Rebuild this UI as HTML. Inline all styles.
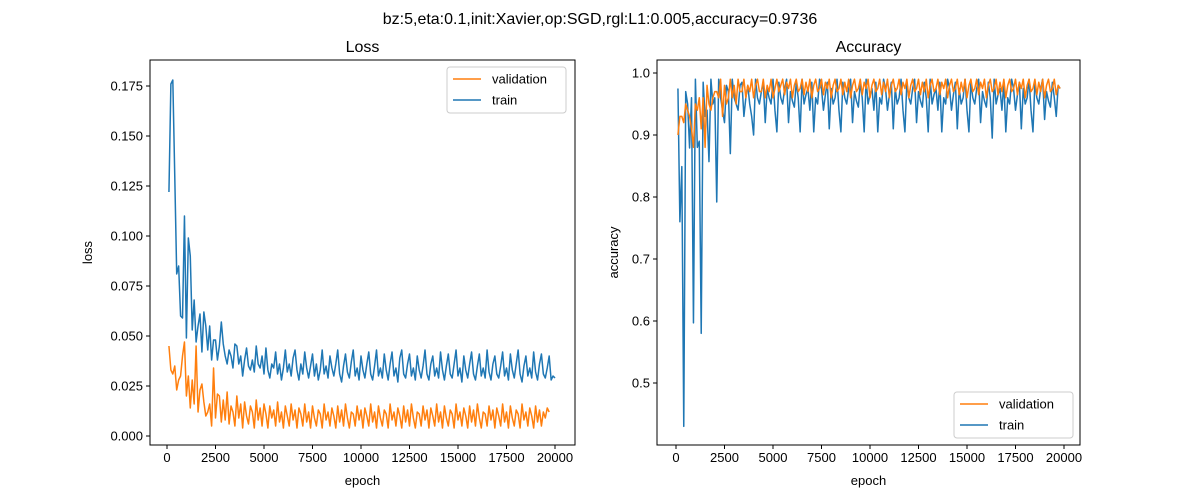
<!DOCTYPE html>
<html><head><meta charset="utf-8">
<style>
body{margin:0;background:#fff;}
svg{display:block;font-family:"Liberation Sans","DejaVu Sans",sans-serif;}
</style></head>
<body>
<svg id="fig" width="1200" height="500" viewBox="0 0 1200 500"></svg>
<script>
const EPOCH_STEP = 100;
const lossXTicks = [0,2500,5000,7500,10000,12500,15000,17500,20000];
const lossYTicks = [0,0.025,0.05,0.075,0.1,0.125,0.15,0.175];
const lossYLabels = ["0.000","0.025","0.050","0.075","0.100","0.125","0.150","0.175"];
const accYTicks = [0.5,0.6,0.7,0.8,0.9,1.0];
const accYLabels = ["0.5","0.6","0.7","0.8","0.9","1.0"];
const trainLoss = [0.122,0.176,0.178,0.130,0.081,0.085,0.060,0.059,0.110,0.049,0.099,0.090,0.053,0.068,0.047,0.055,0.061,0.042,0.062,0.055,0.043,0.055,0.038,0.048,0.048,0.038,0.045,0.057,0.046,0.040,0.036,0.043,0.040,0.034,0.046,0.045,0.036,0.040,0.030,0.038,0.044,0.035,0.033,0.038,0.032,0.045,0.036,0.034,0.040,0.031,0.044,0.033,0.029,0.036,0.034,0.042,0.031,0.036,0.028,0.034,0.043,0.032,0.036,0.030,0.039,0.043,0.033,0.028,0.036,0.031,0.042,0.034,0.029,0.035,0.041,0.030,0.036,0.028,0.033,0.043,0.031,0.035,0.029,0.040,0.034,0.030,0.036,0.043,0.031,0.027,0.035,0.041,0.032,0.029,0.037,0.043,0.030,0.034,0.028,0.040,0.033,0.029,0.036,0.042,0.031,0.028,0.035,0.043,0.030,0.034,0.029,0.041,0.033,0.028,0.036,0.042,0.030,0.034,0.027,0.039,0.043,0.031,0.029,0.036,0.041,0.030,0.034,0.028,0.040,0.033,0.029,0.035,0.043,0.031,0.028,0.036,0.040,0.030,0.034,0.029,0.042,0.033,0.028,0.035,0.041,0.031,0.029,0.036,0.043,0.030,0.034,0.027,0.040,0.033,0.029,0.036,0.042,0.031,0.028,0.035,0.041,0.030,0.034,0.029,0.043,0.032,0.028,0.036,0.040,0.031,0.029,0.035,0.042,0.030,0.034,0.028,0.041,0.033,0.029,0.036,0.043,0.031,0.027,0.035,0.040,0.030,0.034,0.029,0.042,0.032,0.028,0.036,0.041,0.031,0.029,0.034,0.040,0.028,0.030,0.029];
const valLoss = [0.045,0.033,0.031,0.035,0.023,0.028,0.030,0.040,0.047,0.020,0.030,0.014,0.028,0.016,0.045,0.012,0.023,0.026,0.017,0.010,0.012,0.016,0.005,0.034,0.009,0.021,0.020,0.007,0.018,0.008,0.022,0.006,0.015,0.012,0.005,0.020,0.009,0.016,0.004,0.017,0.010,0.006,0.015,0.012,0.004,0.018,0.008,0.014,0.005,0.016,0.011,0.004,0.015,0.009,0.013,0.005,0.017,0.007,0.012,0.004,0.015,0.010,0.005,0.016,0.008,0.013,0.004,0.014,0.011,0.005,0.016,0.007,0.012,0.004,0.015,0.009,0.005,0.013,0.011,0.004,0.016,0.008,0.012,0.005,0.014,0.010,0.004,0.015,0.007,0.013,0.005,0.016,0.009,0.004,0.012,0.011,0.005,0.015,0.008,0.013,0.004,0.014,0.010,0.005,0.016,0.007,0.012,0.004,0.015,0.009,0.005,0.013,0.011,0.004,0.016,0.008,0.012,0.005,0.014,0.010,0.004,0.015,0.007,0.013,0.005,0.016,0.009,0.004,0.012,0.011,0.005,0.015,0.008,0.013,0.004,0.014,0.010,0.005,0.016,0.007,0.012,0.004,0.015,0.009,0.005,0.013,0.011,0.004,0.016,0.008,0.012,0.005,0.014,0.010,0.004,0.015,0.007,0.013,0.005,0.016,0.009,0.004,0.012,0.011,0.005,0.015,0.008,0.013,0.004,0.014,0.010,0.005,0.016,0.007,0.012,0.004,0.015,0.009,0.005,0.013,0.011,0.004,0.016,0.008,0.012,0.005,0.014,0.010,0.004,0.015,0.007,0.013,0.005,0.012,0.009,0.014,0.012];
const trainAcc = [0.975,0.760,0.849,0.430,0.970,0.950,0.879,0.960,0.597,0.990,0.880,0.890,0.580,0.985,0.930,0.940,0.857,0.990,0.950,0.960,0.792,0.990,0.960,0.940,0.920,0.980,0.970,0.870,0.990,0.960,0.950,0.940,0.980,0.985,0.930,0.960,0.980,0.950,0.930,0.900,0.990,0.960,0.950,0.970,0.985,0.920,0.975,0.960,0.950,0.990,0.940,0.905,0.985,0.960,0.950,0.975,0.990,0.920,0.970,0.955,0.945,0.985,0.960,0.905,0.990,0.950,0.965,0.975,0.940,0.985,0.905,0.960,0.950,0.990,0.975,0.940,0.965,0.985,0.910,0.975,0.950,0.960,0.990,0.940,0.905,0.985,0.960,0.950,0.975,0.990,0.920,0.970,0.955,0.945,0.985,0.960,0.905,0.990,0.950,0.965,0.975,0.940,0.985,0.905,0.960,0.950,0.990,0.975,0.940,0.965,0.985,0.910,0.975,0.950,0.960,0.990,0.940,0.905,0.985,0.960,0.950,0.975,0.990,0.920,0.970,0.955,0.945,0.985,0.960,0.905,0.990,0.950,0.965,0.975,0.940,0.985,0.905,0.960,0.950,0.990,0.975,0.940,0.965,0.985,0.910,0.975,0.950,0.960,0.990,0.940,0.905,0.985,0.960,0.950,0.975,0.990,0.920,0.970,0.955,0.945,0.985,0.960,0.895,0.990,0.950,0.965,0.975,0.940,0.985,0.905,0.960,0.950,0.990,0.975,0.940,0.965,0.985,0.910,0.975,0.950,0.960,0.990,0.940,0.905,0.985,0.960,0.950,0.975,0.990,0.925,0.970,0.955,0.945,0.985,0.960,0.930,0.980,0.975];
const valAcc = [0.900,0.930,0.930,0.920,0.950,0.940,0.930,0.910,0.880,0.950,0.940,0.960,0.910,0.960,0.880,0.980,0.950,0.940,0.960,0.970,0.970,0.960,0.990,0.930,0.980,0.950,0.960,0.990,0.960,0.980,0.950,0.990,0.970,0.970,0.990,0.960,0.980,0.970,0.990,0.960,0.980,0.990,0.970,0.970,0.990,0.960,0.980,0.970,0.990,0.960,0.975,0.990,0.970,0.980,0.990,0.965,0.985,0.975,0.990,0.960,0.980,0.990,0.970,0.975,0.990,0.965,0.985,0.970,0.990,0.960,0.980,0.990,0.970,0.975,0.990,0.965,0.985,0.975,0.990,0.960,0.980,0.990,0.970,0.975,0.990,0.965,0.985,0.970,0.990,0.960,0.980,0.990,0.970,0.975,0.990,0.965,0.985,0.975,0.990,0.960,0.980,0.990,0.970,0.975,0.990,0.965,0.985,0.970,0.990,0.960,0.980,0.990,0.970,0.975,0.990,0.965,0.985,0.975,0.990,0.960,0.980,0.990,0.970,0.975,0.990,0.965,0.985,0.970,0.990,0.960,0.980,0.990,0.970,0.975,0.990,0.965,0.985,0.975,0.990,0.960,0.980,0.990,0.970,0.975,0.990,0.965,0.985,0.970,0.990,0.960,0.980,0.990,0.970,0.975,0.990,0.965,0.985,0.975,0.990,0.960,0.980,0.990,0.970,0.975,0.990,0.965,0.985,0.970,0.990,0.960,0.980,0.990,0.970,0.975,0.990,0.965,0.985,0.975,0.990,0.960,0.980,0.990,0.970,0.975,0.990,0.965,0.985,0.970,0.990,0.960,0.980,0.990,0.970,0.975,0.990,0.965,0.980,0.975];

const NS="http://www.w3.org/2000/svg";
const svg=document.getElementById('fig');
function mk(tag,attrs,parent){const e=document.createElementNS(NS,tag);for(const k in attrs)e.setAttribute(k,attrs[k]);(parent||svg).appendChild(e);return e;}
function txt(s,attrs,parent){const e=mk('text',attrs,parent);e.textContent=s;return e;}

const t=txt("bz:5,eta:0.1,init:Xavier,op:SGD,rgl:L1:0.005,accuracy=0.9736",{x:600,y:24,'text-anchor':'middle','font-size':16,fill:'#000'});



function panel(cfg){
  const g=mk('g',{});
  
  
  const L=cfg.left,R=cfg.right,T=60,B=445;
  const xs=v=>cfg.x0+v*(cfg.x1-cfg.x0)/20000;
  const ys=v=>cfg.yA+(v-cfg.vA)*(cfg.yB-cfg.yA)/(cfg.vB-cfg.vA);
  const pt=txt(cfg.title,{x:(L+R)/2,y:52,'text-anchor':'middle','font-size':16,fill:'#000'},g);
  
  
  // series
  cfg.series.forEach(s=>{
    const d=s.data.map((v,i)=>(i?'L':'M')+xs((i+1)*EPOCH_STEP).toFixed(2)+','+ys(v).toFixed(2)).join(' ');
    const p=mk('path',{d:d,fill:'none',stroke:s.color,'stroke-width':1.5,'stroke-linejoin':'round'},g);
    
    
  });
  const box=mk('rect',{x:L,y:T,width:R-L,height:B-T,fill:'none',stroke:'#000','stroke-width':1},g);
  
  
  lossXTicks.forEach(v=>{
    const x=xs(v);
    mk('line',{x1:x,x2:x,y1:B,y2:B+4,stroke:'#000'},g);
    const l=txt(String(v),{x:x,y:B+17,'text-anchor':'middle','font-size':13,fill:'#000'},g);
    
    
  });
  cfg.yTicks.forEach((v,i)=>{
    const y=ys(v);
    mk('line',{x1:L-4,x2:L,y1:y,y2:y,stroke:'#000'},g);
    const l=txt(cfg.yLabels[i],{x:L-7,y:y+4.5,'text-anchor':'end','font-size':13,fill:'#000'},g);
    
    
  });
  const xl=txt('epoch',{x:(L+R)/2,y:485,'text-anchor':'middle','font-size':13,fill:'#000'},g);
  
  
  const yl=txt(cfg.ylabel,{x:0,y:0,'text-anchor':'middle','font-size':13,fill:'#000',transform:`translate(${cfg.ylx},${(T+B)/2}) rotate(-90)`},g);
  
  
  // legend
  const lg=mk('g',{},g);
  
  
  mk('rect',{x:cfg.lx,y:cfg.ly,width:119,height:46,rx:3,fill:'#fff','fill-opacity':0.8,stroke:'#ccc'},lg);
  [['validation','#ff7f0e'],['train','#1f77b4']].forEach((e,i)=>{
    const yy=cfg.ly+12+i*21;
    const ln=mk('line',{x1:cfg.lx+6,x2:cfg.lx+34,y1:yy,y2:yy,stroke:e[1],'stroke-width':1.5},lg);
    
    
    const lt=txt(e[0],{x:cfg.lx+45,y:yy+4.5,'font-size':13,fill:'#000'},lg);
    
    
  });
}
panel({name:'loss-panel',title:'Loss',left:150,right:575,x0:167,x1:555,yA:436,vA:0,yB:86,vB:0.175,
  yTicks:lossYTicks,yLabels:lossYLabels,ylabel:'loss',ylx:92,lx:447,ly:67,
  series:[{name:'val-loss',data:valLoss,color:'#ff7f0e'},{name:'train-loss',data:trainLoss,color:'#1f77b4'}]});
panel({name:'accuracy-panel',title:'Accuracy',left:657,right:1080,x0:676,x1:1064,yA:73,vA:1.0,yB:383,vB:0.5,
  yTicks:accYTicks,yLabels:accYLabels,ylabel:'accuracy',ylx:618,lx:954,ly:392,
  series:[{name:'train-acc',data:trainAcc,color:'#1f77b4'},{name:'val-acc',data:valAcc,color:'#ff7f0e'}]});
</script>
</body></html>
